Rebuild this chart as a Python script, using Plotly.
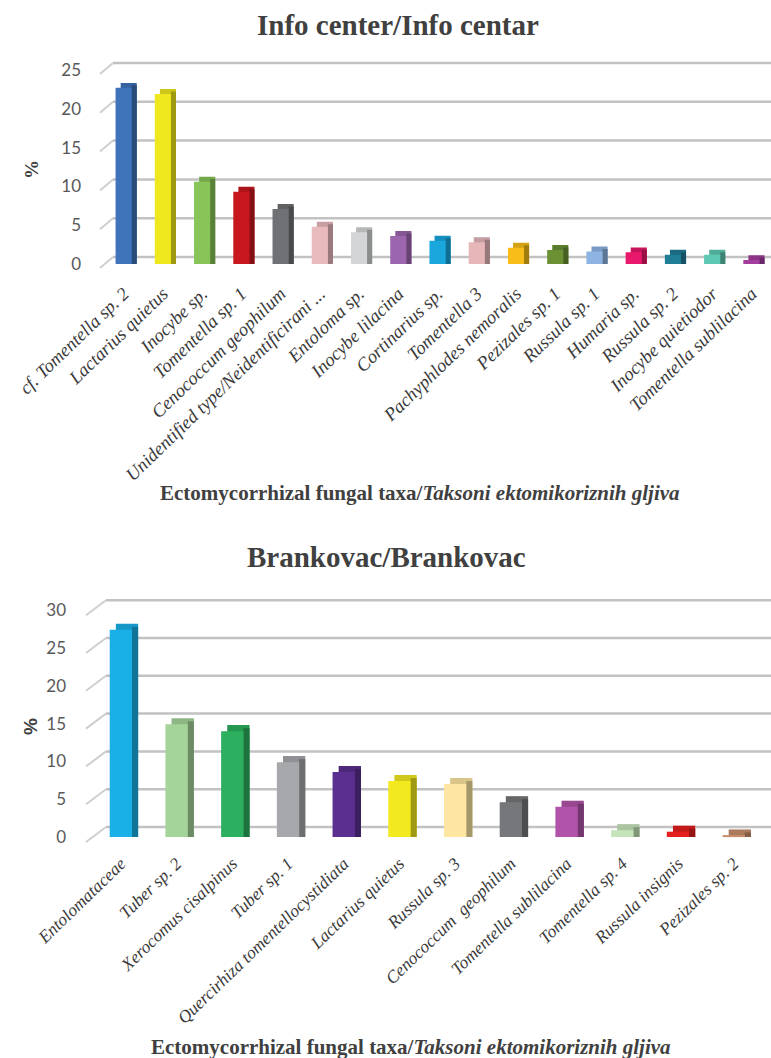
import plotly.graph_objects as go

# ---------------- data ----------------
top_taxa = [
    "cf. Tomentella sp. 2", "Lactarius quietus", "Inocybe sp.", "Tomentella sp. 1",
    "Cenococcum geophilum", "Unidentified type/Neidentificirani ...", "Entoloma sp.",
    "Inocybe lilacina", "Cortinarius sp.", "Tomentella 3", "Pachyphlodes nemoralis",
    "Pezizales sp. 1", "Russula sp. 1", "Humaria sp.", "Russula sp. 2",
    "Inocybe quietiodor", "Tomentella sublilacina",
]
top_values = [22.7, 21.9, 10.6, 9.3, 7.1, 4.8, 4.1, 3.6, 3.0, 2.8, 2.1, 1.8, 1.6, 1.5, 1.2, 1.2, 0.5]
top_colors = [
    "#3f74ba", "#efe81e", "#88c458", "#c9171f", "#707174", "#e8b9bd", "#d3d5d7",
    "#9c66af", "#19a7de", "#e6b6b9", "#f8bd18", "#6c9135", "#8db4e2", "#e8196d",
    "#1f7d96", "#5dc9b2", "#a33e9e",
]
top_ticks = [0, 5, 10, 15, 20, 25]

bot_taxa = [
    "Entolomataceae", "Tuber sp. 2", "Xerocomus cisalpinus", "Tuber sp. 1",
    "Quercirhiza tomentellocystidiata", "Lactarius quietus", "Russula sp. 3",
    "Cenococcum  geophilum", "Tomentella sublilacina", "Tomentella sp. 4",
    "Russula insignis", "Pezizales sp. 2",
]
bot_values = [27.4, 14.9, 14.0, 9.9, 8.6, 7.4, 7.0, 4.6, 4.0, 0.9, 0.7, 0.2]
bot_colors = [
    "#19b0e8", "#a5d49a", "#2caf5e", "#a6a8ab", "#5b2f8f", "#f2e91f", "#fde6a1",
    "#76777a", "#b153a9", "#c6e4ba", "#e3201f", "#c98f6b",
]
bot_ticks = [0, 5, 10, 15, 20, 25, 30]

TOP_TITLE = "Info center/Info centar"
BOT_TITLE = "Brankovac/Brankovac"
X_TITLE = "<b>Ectomycorrhizal fungal taxa/<i>Taksoni ektomikoriznih gljiva</i></b>"

W, H = 771, 1058


def shade(hex_color, f):
    h = hex_color.lstrip("#")
    r, g, b = (int(h[i:i + 2], 16) for i in (0, 2, 4))
    return "#%02x%02x%02x" % (int(r * f), int(g * f), int(b * f))


def add_3d_bars(fig, cats, vals, colors, xa, ya, w, dx, dy):
    # back box (visible as the top face)
    fig.add_trace(go.Bar(x=cats, y=[v + dy for v in vals], base=0, offset=-w / 2 + dx, width=w,
                         marker=dict(color=[shade(c, 0.86) for c in colors], line_width=0),
                         xaxis=xa, yaxis=ya, hoverinfo="skip"))
    # side face
    fig.add_trace(go.Bar(x=cats, y=[v + dy / 2 for v in vals], base=0, offset=w / 2, width=dx,
                         marker=dict(color=[shade(c, 0.66) for c in colors], line_width=0),
                         xaxis=xa, yaxis=ya, hoverinfo="skip"))
    # front face
    fig.add_trace(go.Bar(x=cats, y=vals, offset=-w / 2, width=w,
                         marker=dict(color=colors, line_width=0),
                         xaxis=xa, yaxis=ya))


fig = go.Figure()
add_3d_bars(fig, top_taxa, top_values, top_colors, "x", "y", 0.41, 0.13, 0.64)
add_3d_bars(fig, bot_taxa, bot_values, bot_colors, "x2", "y2", 0.40, 0.11, 0.8)


def py(px):
    return 1 - px / H


# pixel geometry of the two panels
TOP_X0, TOP_ZERO, TOP_PPU = 104, 264, 7.76
BOT_X0, BOT_ZERO, BOT_PPU = 93, 837, 7.56
top_range = [-0.7, 26.3]
bot_range = [-0.8, 31.6]

yax = dict(showgrid=False, zeroline=False, showline=False, ticks="", automargin=False,
           tickfont=dict(family="Lato, Carlito, sans-serif", size=17, color="#595959"))


def xax(size):
    return dict(showgrid=False, zeroline=False, showline=False, ticks="", automargin=False,
                type="category", tickangle=-44,
                tickfont=dict(family="Liberation Serif, Times New Roman, serif", size=size,
                              color="#3a3a3a", style="italic"))


fig.update_layout(
    width=W, height=H,
    margin=dict(l=0, r=0, t=0, b=0),
    paper_bgcolor="white", plot_bgcolor="white",
    barmode="overlay", showlegend=False,
    xaxis=dict(domain=[TOP_X0 / W, 1], range=[-0.5, 16.5], anchor="y",
               ticklabelstandoff=9, **xax(18.5)),
    yaxis=dict(domain=[py(TOP_ZERO - top_range[0] * TOP_PPU), py(TOP_ZERO - top_range[1] * TOP_PPU)],
               range=top_range, tickvals=top_ticks, anchor="x", ticklabelstandoff=22, **yax),
    xaxis2=dict(domain=[BOT_X0 / W, 1], range=[-0.5, 11.67], anchor="y2",
                ticklabelstandoff=6, **xax(17.5)),
    yaxis2=dict(domain=[py(BOT_ZERO - bot_range[0] * BOT_PPU), py(BOT_ZERO - bot_range[1] * BOT_PPU)],
                range=bot_range, tickvals=bot_ticks, anchor="x2", ticklabelstandoff=26, **yax),
)

# back-wall gridlines and floor-edge ticks of the 3-D chart, positioned on the tick values
GRID = "#c2c2c2"
for ticks, yref, x0, gx, gy, lx, ly in [
    (top_ticks, "y", TOP_X0, 9, 7, -4, -4),
    (bot_ticks, "y2", BOT_X0, 13, 10, -7, -5),
]:
    for t in ticks:
        fig.add_shape(type="line", xref="paper", yref=yref, xsizemode="pixel", ysizemode="pixel",
                      xanchor=x0 / W, yanchor=t, x0=gx, x1=W - x0, y0=gy, y1=gy,
                      line=dict(color=GRID, width=2.5), layer="below")
        fig.add_shape(type="line", xref="paper", yref=yref, xsizemode="pixel", ysizemode="pixel",
                      xanchor=x0 / W, yanchor=t, x0=lx, x1=gx, y0=ly, y1=gy,
                      line=dict(color="#cfcfcf", width=2), layer="below")

serif_bold = "Liberation Serif, Times New Roman, serif"
ann = [
    dict(text="<b>%s</b>" % TOP_TITLE, x=398 / W, y=py(25), size=29, fam=serif_bold, angle=0),
    dict(text=X_TITLE, x=420 / W, y=py(493), size=21, fam=serif_bold, angle=0),
    dict(text="<b>%</b>", x=32 / W, y=py(170), size=19, fam=serif_bold, angle=-90),
    dict(text="<b>%s</b>" % BOT_TITLE, x=386 / W, y=py(557), size=29, fam=serif_bold, angle=0),
    dict(text=X_TITLE, x=411 / W, y=py(1047), size=21, fam=serif_bold, angle=0),
    dict(text="<b>%</b>", x=30 / W, y=py(727), size=19, fam="Liberation Sans, Arial, sans-serif", angle=-90),
]
for a in ann:
    fig.add_annotation(text=a["text"], x=a["x"], y=a["y"], xref="paper", yref="paper",
                       xanchor="center", yanchor="middle", showarrow=False, textangle=a["angle"],
                       font=dict(family=a["fam"], size=a["size"], color="#404040"))

fig.write_html("out.html", config={"displayModeBar": False},
               post_script="document.body.style.margin='0px';")
